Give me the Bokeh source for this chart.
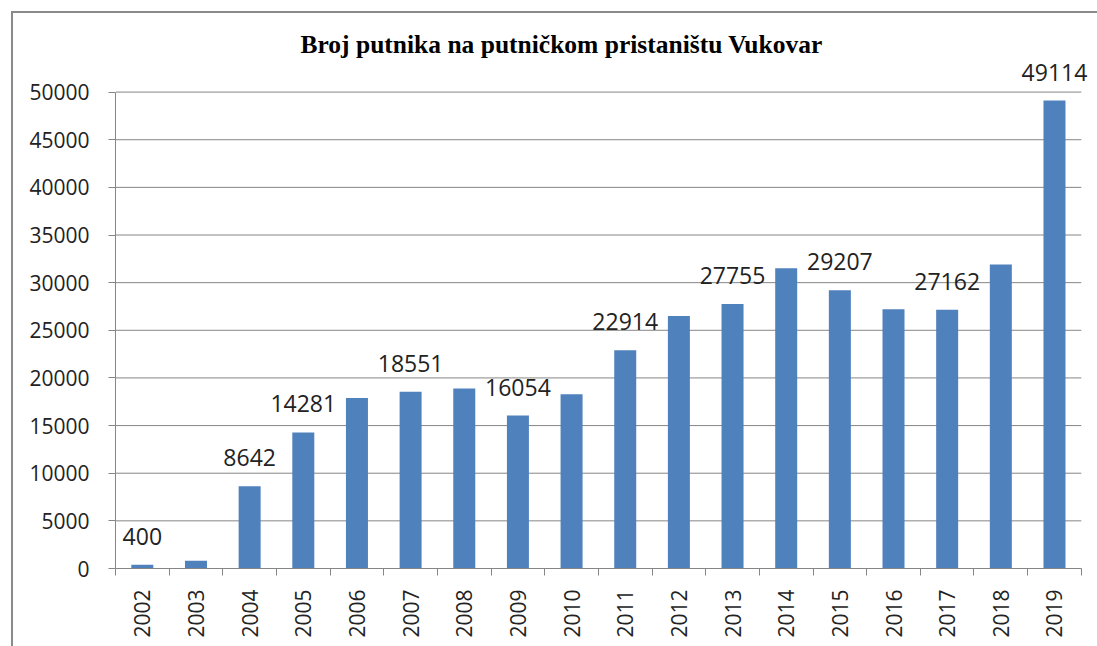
from bokeh.plotting import figure
from bokeh.models import Range1d, FixedTicker, ColumnDataSource
from bokeh.embed import file_html
from bokeh.resources import INLINE
from bokeh.core.properties import value

years = ["2002", "2003", "2004", "2005", "2006", "2007", "2008", "2009", "2010",
         "2011", "2012", "2013", "2014", "2015", "2016", "2017", "2018", "2019"]
passengers = [400, 820, 8642, 14281, 17900, 18551, 18900, 16054, 18300,
              22914, 26500, 27755, 31500, 29207, 27200, 27162, 31900, 49114]
shown_labels = ["400", "", "8642", "14281", "", "18551", "", "16054", "",
                "22914", "", "27755", "", "29207", "", "27162", "", "49114"]
y_ticks = [0, 5000, 10000, 15000, 20000, 25000, 30000, 35000, 40000, 45000, 50000]
title_text = "Broj putnika  na putničkom pristaništu  Vukovar"

n = len(years)
centers = [i + 0.5 for i in range(n)]
src = ColumnDataSource(dict(x=centers, y=passengers, lab=shown_labels))

frame_css = ("linear-gradient(#8a8a8a, #8a8a8a) 11px 11px / 2px 100% no-repeat, "
             "linear-gradient(#8a8a8a, #8a8a8a) 11px 11px / 100% 2px no-repeat, white")

p = figure(width=1097, height=646, output_backend="svg", toolbar_location=None,
           x_range=Range1d(0, n + 0.19), y_range=Range1d(0, 53000),
           min_border_left=115, min_border_right=6, min_border_top=63, min_border_bottom=78,
           styles={"background": frame_css})
p.border_fill_color = None
p.background_fill_color = None

p.title.text = title_text
p.title.text_font = "Liberation Serif"
p.title.text_font_size = "25.5px"
p.title.text_font_style = "bold"
p.title.align = "left"
p.title.offset = 185
p.title.text_color = "black"

p.outline_line_color = None

# horizontal grid lines over the category span
p.segment(x0=[0] * len(y_ticks), x1=[n] * len(y_ticks), y0=y_ticks, y1=y_ticks,
          line_color="#868686", line_width=1, level="underlay")

p.vbar(x="x", top="y", width=0.41, source=src, fill_color="#4F81BD", line_color=None)
p.text(x="x", y="y", text="lab", source=src, text_align="center", text_baseline="bottom",
       y_offset=-20, text_font=value("Open Sans"), text_font_size="23px", text_color="#222222")

# y axis
p.yaxis.ticker = FixedTicker(ticks=y_ticks)
p.yaxis.bounds = (0, 50000)
p.yaxis.axis_line_color = "#868686"
p.yaxis.major_tick_line_color = "#868686"
p.yaxis.major_tick_out = 7
p.yaxis.major_tick_in = 0
p.yaxis.minor_tick_line_color = None
p.yaxis.major_label_text_font = "Open Sans"
p.yaxis.major_label_text_font_size = "21px"
p.yaxis.major_label_text_color = "#222222"
p.yaxis.major_label_standoff = 19

# x axis
p.xaxis.ticker = FixedTicker(ticks=centers, minor_ticks=list(range(n + 1)))
p.xaxis.bounds = (0, n)
p.xaxis.major_label_overrides = {c: y for c, y in zip(centers, years)}
p.xaxis.major_label_orientation = 1.5707963
p.xaxis.axis_line_color = "#868686"
p.xaxis.major_tick_line_color = None
p.xaxis.major_tick_out = 0
p.xaxis.major_tick_in = 0
p.xaxis.minor_tick_line_color = "#868686"
p.xaxis.minor_tick_out = 7
p.xaxis.minor_tick_in = 0
p.xaxis.major_label_text_font = "Open Sans"
p.xaxis.major_label_text_font_size = "21px"
p.xaxis.major_label_text_color = "#222222"
p.xaxis.major_label_standoff = 14

p.xgrid.grid_line_color = None
p.ygrid.grid_line_color = None

open("out.html", "w").write(file_html(p, INLINE))
